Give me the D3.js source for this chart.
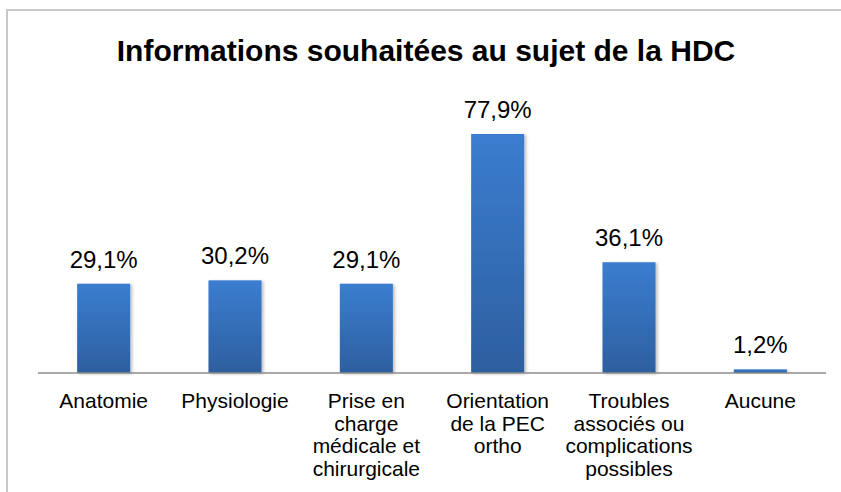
<!DOCTYPE html>
<html>
<head>
<meta charset="utf-8">
<script src="https://cdn.jsdelivr.net/npm/d3@7"></script>
<style>
  html, body { margin: 0; padding: 0; background: #fff; }
  svg { display: block; }
  text { font-family: "Liberation Sans", Arial, sans-serif; fill: #000; }
</style>
</head>
<body>
<svg id="chart" width="841" height="492"></svg>
<script>
const title = "Informations souhaitées au sujet de la HDC";
const categories = [
  ["Anatomie"],
  ["Physiologie"],
  ["Prise en", "charge", "médicale et", "chirurgicale"],
  ["Orientation", "de la PEC", "ortho"],
  ["Troubles", "associés ou", "complications", "possibles"],
  ["Aucune"]
];
const values = [29.1, 30.2, 29.1, 77.9, 36.1, 1.2];
const valueLabels = ["29,1%", "30,2%", "29,1%", "77,9%", "36,1%", "1,2%"];

const svg = d3.select("#chart");
const W = 841, H = 492;
const baseY = 373, plotLeft = 38, plotRight = 826;

// frame
svg.append("rect")
  .attr("x", 7).attr("y", 10)
  .attr("width", W + 10).attr("height", H + 10)
  .attr("fill", "none").attr("stroke", "#c8c8c8").attr("stroke-width", 2);

const defs = svg.append("defs");
const grad = defs.append("linearGradient").attr("id", "barGrad")
  .attr("x1", 0).attr("y1", 0).attr("x2", 0).attr("y2", 1);
grad.append("stop").attr("offset", "0%").attr("stop-color", "#3b7dd0");
grad.append("stop").attr("offset", "100%").attr("stop-color", "#2d5f9f");
const filt = defs.append("filter").attr("id", "shadow")
  .attr("x", "-20%").attr("y", "-5%").attr("width", "150%").attr("height", "115%");
filt.append("feDropShadow").attr("dx", 2).attr("dy", 1).attr("stdDeviation", 1.5)
  .attr("flood-color", "#000").attr("flood-opacity", 0.25);

const x = d3.scaleBand()
  .domain(d3.range(categories.length))
  .range([plotLeft, plotRight])
  .paddingInner(0.596).paddingOuter(0.298);

const y = d3.scaleLinear().domain([0, 77.9]).range([baseY, 134]);

// title
svg.append("text")
  .attr("x", 426).attr("y", 61)
  .attr("text-anchor", "middle")
  .style("font-size", "30px").style("font-weight", "bold")
  .text(title);

// bars
svg.append("g").selectAll("rect").data(values).join("rect")
  .attr("x", (d, i) => x(i))
  .attr("y", d => y(d))
  .attr("width", x.bandwidth())
  .attr("height", d => baseY - y(d))
  .attr("fill", "url(#barGrad)")
  .attr("filter", "url(#shadow)");

// axis line
const xAxis = d3.axisBottom(x).tickSize(0).tickFormat("");
const axG = svg.append("g").attr("transform", `translate(0,${baseY})`).call(xAxis);
axG.select(".domain").attr("stroke", "#8c8c8c").attr("stroke-width", 1.5)
  .attr("d", `M${plotLeft},0H${plotRight}`);

// value labels
svg.append("g").selectAll("text").data(values).join("text")
  .attr("x", (d, i) => x(i) + x.bandwidth() / 2)
  .attr("y", d => y(d) - 16)
  .attr("text-anchor", "middle")
  .style("font-size", "24px")
  .text((d, i) => valueLabels[i]);

// category labels
const catG = svg.append("g").selectAll("text").data(categories).join("text")
  .attr("x", (d, i) => x(i) + x.bandwidth() / 2)
  .attr("y", 408)
  .attr("text-anchor", "middle")
  .style("font-size", "21px");
catG.each(function(lines) {
  const t = d3.select(this);
  const cx = t.attr("x");
  lines.forEach((ln, j) => {
    t.append("tspan").attr("x", cx).attr("dy", j === 0 ? 0 : 22.5).text(ln);
  });
});
</script>
</body>
</html>
